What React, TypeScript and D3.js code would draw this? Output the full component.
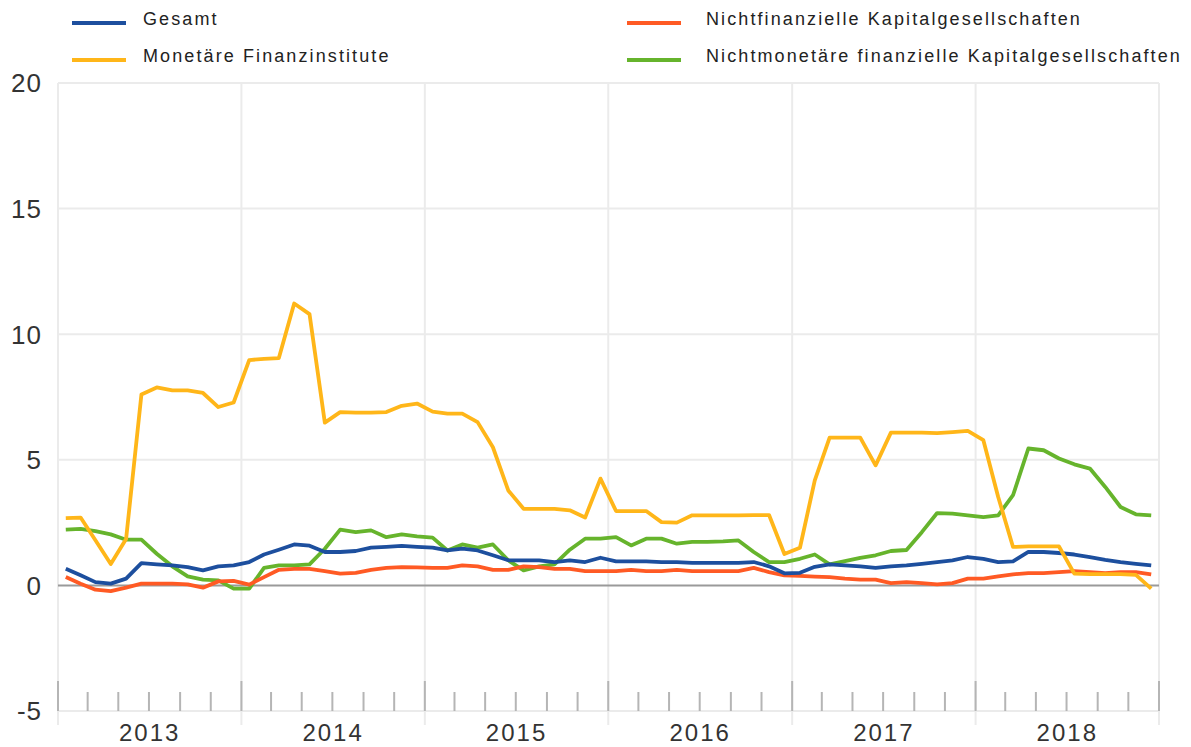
import * as d3 from "d3"
import React from "react"

// monthly values, Jan 2013 .. Dec 2018
const months: Date[] = d3.timeMonths(new Date(2013, 0, 1), new Date(2019, 0, 1))

const gesamt = [
  0.66, 0.4, 0.13, 0.07, 0.27, 0.89, 0.84, 0.8, 0.73, 0.6, 0.76, 0.8,
  0.93, 1.23, 1.42, 1.63, 1.58, 1.33, 1.33, 1.37, 1.5, 1.53, 1.57, 1.53,
  1.5, 1.39, 1.46, 1.39, 1.2, 1.0, 1.0, 1.0, 0.93, 1.0, 0.93, 1.1,
  0.96, 0.96, 0.96, 0.93, 0.93, 0.9, 0.9, 0.9, 0.9, 0.93, 0.76, 0.48,
  0.5, 0.74, 0.84, 0.8, 0.76, 0.7, 0.76, 0.8, 0.86, 0.93, 1.0, 1.13,
  1.06, 0.93, 0.96, 1.33, 1.33, 1.29, 1.23, 1.13, 1.02, 0.93, 0.86, 0.8,
]

const mfi = [
  2.68, 2.7, 1.8, 0.85, 1.85, 7.6, 7.88, 7.76, 7.76, 7.66, 7.1, 7.28,
  8.97, 9.02, 9.05, 11.22, 10.8, 6.48, 6.9, 6.88, 6.88, 6.9, 7.15, 7.24,
  6.92, 6.84, 6.84, 6.5, 5.5, 3.78, 3.05, 3.05, 3.05, 2.99, 2.7, 4.25,
  2.96, 2.96, 2.96, 2.52, 2.5, 2.79, 2.79, 2.79, 2.79, 2.8, 2.8, 1.25,
  1.5, 4.18, 5.88, 5.88, 5.88, 4.78, 6.08, 6.08, 6.08, 6.06, 6.1, 6.15,
  5.78, 3.52, 1.53, 1.55, 1.55, 1.55, 0.47, 0.45, 0.45, 0.45, 0.42, -0.13,
]

const nfc = [
  0.33, 0.07, -0.17, -0.23, -0.09, 0.07, 0.07, 0.07, 0.04, -0.09, 0.16, 0.18,
  0.03, 0.33, 0.62, 0.66, 0.66, 0.57, 0.47, 0.5, 0.62, 0.7, 0.73, 0.72,
  0.7, 0.7, 0.8, 0.76, 0.62, 0.62, 0.76, 0.73, 0.66, 0.66, 0.57, 0.57,
  0.57, 0.62, 0.57, 0.57, 0.62, 0.57, 0.57, 0.57, 0.57, 0.7, 0.53, 0.4,
  0.38, 0.35, 0.33, 0.27, 0.23, 0.23, 0.09, 0.13, 0.09, 0.04, 0.09, 0.27,
  0.27, 0.36, 0.44, 0.49, 0.49, 0.53, 0.57, 0.53, 0.49, 0.53, 0.53, 0.44,
]

const ofi = [
  2.22, 2.25, 2.16, 2.03, 1.82, 1.82, 1.26, 0.76, 0.36, 0.23, 0.2, -0.13,
  -0.13, 0.7, 0.8, 0.8, 0.84, 1.46, 2.22, 2.12, 2.19, 1.92, 2.03, 1.95,
  1.9, 1.39, 1.63, 1.5, 1.63, 1.0, 0.6, 0.76, 0.84, 1.42, 1.86, 1.86,
  1.92, 1.59, 1.86, 1.86, 1.66, 1.73, 1.73, 1.75, 1.79, 1.33, 0.93, 0.93,
  1.06, 1.23, 0.84, 0.97, 1.1, 1.2, 1.37, 1.41, 2.12, 2.88, 2.86, 2.79,
  2.72, 2.79, 3.59, 5.45, 5.38, 5.05, 4.82, 4.65, 3.92, 3.12, 2.83, 2.79,
]

const seriesNames = [
  "Gesamt",
  "Monetäre Finanzinstitute",
  "Nichtfinanzielle Kapitalgesellschaften",
  "Nichtmonetäre finanzielle Kapitalgesellschaften",
]
const yTicks = [20, 15, 10, 5, 0, -5]
const years = [2013, 2014, 2015, 2016, 2017, 2018]

const W = 1191
const H = 747
const left = 58
const right = 1159
const top = 83
const bottom = 711

const colors = ["#1d4f9e", "#ffb619", "#ff5a24", "#66b42c"]
const allSeries = [gesamt, mfi, nfc, ofi]

const App = () => {
  const x = d3
    .scaleTime()
    .domain([new Date(2013, 0, 1), new Date(2019, 0, 1)])
    .range([left, right])
  const y = d3.scaleLinear().domain([-5, 20]).range([bottom, top])

  // points sit in the middle of each month
  const midX = (d: Date) => (x(d) + x(d3.timeMonth.offset(d, 1))) / 2
  const line = d3
    .line<number>()
    .x((_, i) => midX(months[i]))
    .y((v) => y(v))

  const yearStarts = years.map((yr) => new Date(yr, 0, 1)).concat([new Date(2019, 0, 1)])
  const minorTicks = d3.timeMonth.every(2)!.range(new Date(2013, 0, 1), new Date(2019, 0, 2))

  const legend = [
    { lx: 72, ly: 23, tx: 143 },
    { lx: 72, ly: 60, tx: 143 },
    { lx: 627, ly: 23, tx: 706 },
    { lx: 627, ly: 60, tx: 706 },
  ]

  return (
    <svg
      width={W}
      height={H}
      viewBox={`0 0 ${W} ${H}`}
      style={{ position: "absolute", left: 0, top: 0, background: "#fff" }}
      fontFamily="'Liberation Sans', Arial, sans-serif"
    >
      {/* horizontal grid */}
      {yTicks.filter((t) => t !== 0).map((t) => (
        <line key={"h" + t} x1={left} x2={right} y1={y(t)} y2={y(t)} stroke="#ebebeb" strokeWidth={2} />
      ))}
      {/* vertical grid */}
      {yearStarts.map((d, i) => (
        <line key={"v" + i} x1={x(d)} x2={x(d)} y1={top} y2={bottom + 14} stroke="#ebebeb" strokeWidth={2} />
      ))}
      {/* ticks */}
      {minorTicks.map((d, i) => {
        const major = d.getMonth() === 0
        return (
          <line
            key={"t" + i}
            x1={x(d)}
            x2={x(d)}
            y1={major ? bottom - 30 : bottom - 19}
            y2={bottom}
            stroke="#b5b5b5"
            strokeWidth={2}
          />
        )
      })}
      {/* zero line */}
      <line x1={left} x2={right} y1={y(0)} y2={y(0)} stroke="#9a9a9a" strokeWidth={2} />

      {/* y labels */}
      {yTicks.map((t) => (
        <text key={"y" + t} x={42} y={y(t)} dy="0.36em" textAnchor="end" fontSize={26} letterSpacing={1} fill="#333">
          {t}
        </text>
      ))}
      {/* year labels */}
      {years.map((yr) => (
        <text
          key={"yr" + yr}
          x={(x(new Date(yr, 0, 1)) + x(new Date(yr + 1, 0, 1))) / 2}
          y={741}
          textAnchor="middle"
          fontSize={24}
          letterSpacing={2}
          fill="#333"
        >
          {yr}
        </text>
      ))}

      {/* lines */}
      {[3, 2, 0, 1].map((k) => (
        <path
          key={"s" + k}
          d={line(allSeries[k]) || ""}
          fill="none"
          stroke={colors[k]}
          strokeWidth={3.8}
          strokeLinejoin="round"
        />
      ))}

      {/* legend */}
      {seriesNames.map((name, k) => {
        const p = legend[k]
        return (
          <g key={"l" + k}>
            <line x1={p.lx} x2={p.lx + 54} y1={p.ly} y2={p.ly} stroke={colors[k]} strokeWidth={4} />
            <text x={p.tx} y={p.ly - 4} dy="0.35em" fontSize={18} letterSpacing={2.1} fill="#222">
              {name}
            </text>
          </g>
        )
      })}
    </svg>
  )
}

export default App
